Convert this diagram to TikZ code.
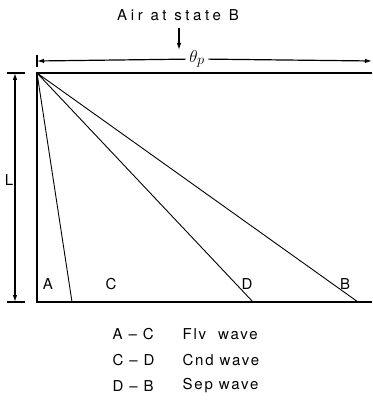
\documentclass[tikz,border=0pt]{standalone}
\usepackage{fontspec}
\setsansfont[LetterSpace=12]{TeX Gyre Heros}
\newfontfamily\titlefont[LetterSpace=24]{TeX Gyre Heros}
\usetikzlibrary{arrows.meta,positioning,calc}

\begin{document}
\begin{tikzpicture}[x=1pt, y=-1pt, >={Latex[length=7pt,width=4.5pt]}, line width=1.2pt,
  every node/.style={font=\sffamily\fontsize{15}{17}\selectfont, inner sep=1pt},
  wave/.style={line width=0.9pt},
  legend/.style={anchor=west}]
\useasboundingbox (0,0) rectangle (372,403);
% channel
\coordinate (tl) at (37,73);
\coordinate (tr) at (372,73);
\coordinate (bl) at (37,302);
\coordinate (br) at (372,302);
\draw (tr) -- (tl) -- (bl) -- (br);
% wave fronts from the corner
\coordinate (fa) at (72,302);
\coordinate (fd) at (253,302);
\coordinate (fb) at (358,302);
\draw[wave] (tl) -- (fa) (tl) -- (fd) (tl) -- (fb);
\node (A) at (48,284) {A};
\node (C) at (111,284) {C};
\node (D) at (247,284) {D};
\node (B) at (345,284) {B};
% inflow
\node[font=\titlefont\fontsize{15}{17}\selectfont] (air) at (178,15) {Air at state B};
\coordinate (airtail) at (179,28);
\coordinate (airtip) at (179,50);
\draw[->] (airtail) -- (airtip);
% theta_p
\coordinate (thl) at (37,61);
\coordinate (thr) at (372,61);
\draw (37,55) -- (37,67);
\node[fill=white, inner sep=3pt, font=\fontsize{19}{21}\selectfont] (thp) at (197,59) {$\theta_p$};
\draw[->] (thp) -- (thl);
\draw[->] (thp) -- (thr);
% L
\coordinate (Ltop) at (15,73);
\coordinate (Lbot) at (15,302);
\draw (7,73) -- (25,73) (7,302) -- (25,302);
\draw[<->] (Ltop) -- (Lbot);
\node (L) at (9,180) {L};
% legend
\node[legend] (ac) at (111,334) {A -- C};
\node[legend] (cd) at (111,360) {C -- D};
\node[legend] (db) at (111,386) {D -- B};
\node[legend] (flv) at (181,334) {Flv\ \ wave};
\node[legend] (cnd) at (181,360) {Cnd wave};
\node[legend] (sep) at (181,386) {Sep wave};
\end{tikzpicture}
\end{document}
